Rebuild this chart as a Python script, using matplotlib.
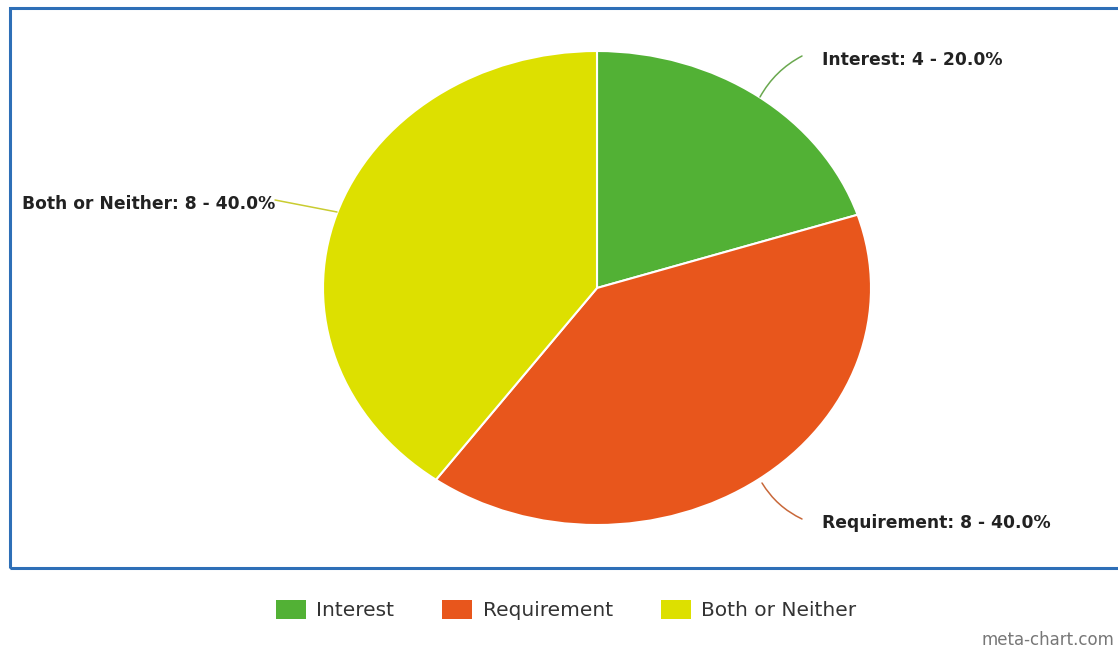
import matplotlib
matplotlib.use("Agg")
import matplotlib.pyplot as plt
from matplotlib.patches import Rectangle

categories = ["Interest", "Requirement", "Both or Neither"]
counts = [4, 8, 8]
colors = ["#52b135", "#e8561c", "#dde000"]

W, H = 1118, 650
fig = plt.figure(figsize=(W / 100, H / 100), dpi=100)
fig.patch.set_facecolor("white")

# pie center (597,288) px, radii 274 (x) / 237 (y)
cx, cy, rx, ry = 597, 288, 274, 237
ax = fig.add_axes([0, 0, 1, 1])
ax.axis("off")

wedges, _ = ax.pie(counts, colors=colors, startangle=90, counterclock=False,
                   radius=1, wedgeprops=dict(edgecolor="white", linewidth=1.5))
ax.set_xlim(-cx / rx, (W - cx) / rx)
ax.set_ylim(-(H - cy) / ry, cy / ry)
ax.set_aspect("auto")


def d(px, py):
    return ((px - cx) / rx, (cy - py) / ry)


total = sum(counts)
labels = [f"{c}: {v} - {100 * v / total:.1f}%" for c, v in zip(categories, counts)]
line_colors = ["#6aa84f", "#c8683a", "#c9cc30"]

# connectors: (start on pie, end near label), text anchor, alignment, curvature
specs = [
    (d(760, 97), d(802, 56), d(822, 60), "left", -0.15),
    (d(762, 483), d(802, 519), d(822, 523), "left", 0.15),
    (d(337, 212), d(275, 200), d(275, 204), "right", 0.0),
]
for (s, e, t, ha, rad), lab, col in zip(specs, labels, line_colors):
    ax.annotate("", xy=e, xytext=s,
                arrowprops=dict(arrowstyle="-", color=col, lw=1.1,
                                connectionstyle=f"arc3,rad={rad}",
                                shrinkA=0, shrinkB=0))
    ax.text(t[0], t[1], lab, ha=ha, va="center", fontsize=12.3,
            fontweight="bold", family="DejaVu Sans", color="#222222")

# frame
fig.patches.append(Rectangle((10 / W, 1 - 568 / H), 1.2, (568 - 8) / H,
                             transform=fig.transFigure, fill=False,
                             edgecolor="#2e6fb7", linewidth=2.2, zorder=10))

leg = fig.legend(wedges, categories, loc="center", bbox_to_anchor=(566 / W, 1 - 610 / H),
                 ncol=3, frameon=False, handlelength=1.5,
                 handleheight=1.1, handletextpad=0.5, columnspacing=2.4,
                 prop=dict(family="DejaVu Sans", size=14.5))
for t in leg.get_texts():
    t.set_color("#333333")
for h in leg.legend_handles:
    h.set_edgecolor("none")

fig.text(1114 / W, 1 - 640 / H, "meta-chart.com", fontsize=12, color="#777777",
         ha="right", va="center", family="DejaVu Sans")

fig.savefig("out.png", dpi=100)
